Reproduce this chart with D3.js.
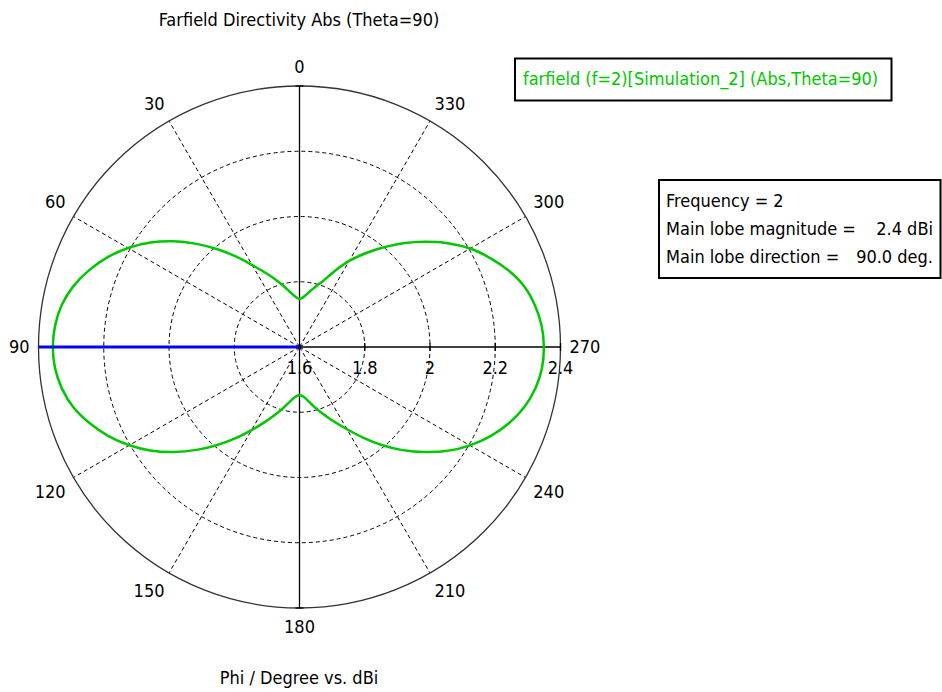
<!DOCTYPE html>
<html>
<head>
<meta charset="utf-8">
<script src="https://cdn.jsdelivr.net/npm/d3@7"></script>
<style>
  html, body { margin: 0; padding: 0; background: #fff; }
  svg { display: block; }
  text { font-family: "DejaVu Sans Condensed", "DejaVu Sans", sans-serif; font-stretch: condensed; fill: #000; }
</style>
</head>
<body>
<svg id="chart" width="942" height="692"></svg>
<script>
// ---- Data ----
const phiDeg = [0,5,10,15,20,25,30,35,40,45,50,55,60,65,70,75,80,85,
  90,95,100,105,110,115,120,125,130,135,140,145,150,155,160,165,170,175,
  180,185,190,195,200,205,210,215,220,225,230,235,240,245,250,255,260,265,
  270,275,280,285,290,295,300,305,310,315,320,325,330,335,340,345,350,355];
const directivity = [1.747,1.755,1.772,1.795,1.822,1.853,1.890,1.938,1.991,2.047,2.104,2.158,2.207,2.250,2.287,2.318,2.340,2.352,
  2.356,2.352,2.339,2.317,2.284,2.246,2.202,2.154,2.101,2.046,1.992,1.941,1.894,1.855,1.822,1.794,1.770,1.754,
  1.747,1.754,1.771,1.794,1.821,1.853,1.891,1.939,1.992,2.047,2.101,2.155,2.203,2.246,2.283,2.313,2.334,2.346,
  2.349,2.345,2.333,2.314,2.283,2.245,2.204,2.155,2.102,2.050,1.998,1.950,1.905,1.858,1.817,1.792,1.771,1.755];
const angleTicks = [0,30,60,90,120,150,180,210,240,270,300,330];
const radialTicks = [1.6,1.8,2.0,2.2,2.4];
const radialTickLabels = ["1.6","1.8","2","2.2","2.4"];
const gridCircles = [1.8,2.0,2.2];
const mainLobeDir = 90;
const title = "Farfield Directivity Abs (Theta=90)";
const axisTitle = "Phi / Degree vs. dBi";
const legendLabel = "farfield (f=2)[Simulation_2] (Abs,Theta=90)";
const infoLabels = ["Frequency = 2", "Main lobe magnitude =", "Main lobe direction ="];
const infoValues = ["", "2.4 dBi", "90.0 deg."];

// ---- Layout ----
const svg = d3.select("#chart");
const cx = 299.5, cy = 347;
const R = 261;
const r = d3.scaleLinear().domain([1.6, 2.4]).range([0, R]);
const toRad = d => -d * Math.PI / 180; // phi counter-clockwise from top
const px = (deg, rr) => cx + rr * Math.sin(toRad(deg));
const py = (deg, rr) => cy - rr * Math.cos(toRad(deg));

const g = svg.append("g");

// dashed grid circles
g.selectAll("circle.grid").data(gridCircles).join("circle")
  .attr("cx", cx).attr("cy", cy).attr("r", d => r(d))
  .attr("fill", "none").attr("stroke", "#000").attr("stroke-width", 1)
  .attr("stroke-dasharray", "4,3");

// dashed spokes
g.selectAll("line.spoke").data(angleTicks.filter(a => a % 90 !== 0)).join("line")
  .attr("x1", cx).attr("y1", cy)
  .attr("x2", d => px(d, R)).attr("y2", d => py(d, R))
  .attr("stroke", "#000").attr("stroke-width", 1).attr("stroke-dasharray", "4,3");

// outer circle
g.append("circle").attr("cx", cx).attr("cy", cy).attr("r", R)
  .attr("fill", "none").attr("stroke", "#333").attr("stroke-width", 1.3);

// solid axes
g.append("line").attr("x1", cx).attr("y1", cy - R).attr("x2", cx).attr("y2", cy + R)
  .attr("stroke", "#000").attr("stroke-width", 1.3);
g.append("line").attr("x1", cx).attr("y1", cy).attr("x2", cx + R).attr("y2", cy)
  .attr("stroke", "#000").attr("stroke-width", 1.3);
[0, 180].forEach(a => {
  g.append("line").attr("x1", px(a, R) - 4).attr("x2", px(a, R) + 4)
    .attr("y1", py(a, R)).attr("y2", py(a, R)).attr("stroke", "#000").attr("stroke-width", 1.3);
});

// radial ticks on the 270 axis
g.selectAll("line.rtick").data(radialTicks.slice(1)).join("line")
  .attr("x1", d => cx + r(d)).attr("x2", d => cx + r(d))
  .attr("y1", cy - 4).attr("y2", cy + 4)
  .attr("stroke", "#000").attr("stroke-width", 1.3);
g.selectAll("text.rlab").data(radialTicks).join("text")
  .attr("x", d => cx + r(d)).attr("y", cy + 27)
  .attr("text-anchor", "middle").attr("font-size", 18)
  .text((d, i) => radialTickLabels[i]);

// pattern curve
const line = d3.lineRadial()
  .angle((d, i) => toRad(phiDeg[i]))
  .radius(d => r(d))
  .curve(d3.curveCardinalClosed.tension(0.3));
g.append("path")
  .attr("transform", `translate(${cx},${cy})`)
  .attr("d", line(directivity))
  .attr("fill", "none").attr("stroke", "#00c800").attr("stroke-width", 2.5);

// main lobe direction
g.append("line").attr("x1", cx).attr("y1", cy)
  .attr("x2", px(mainLobeDir, R)).attr("y2", py(mainLobeDir, R))
  .attr("stroke", "#0000ff").attr("stroke-width", 3);

// angle labels: text box placed just outside the circle in the spoke direction
const gap = 9, halfH = 10;
g.selectAll("text.alab").data(angleTicks).join("text")
  .attr("text-anchor", "middle").attr("dy", "0.36em").attr("font-size", 18)
  .text(d => d)
  .each(function(d) {
    const w = this.getComputedTextLength();
    const ux = Math.sin(toRad(d)), uy = -Math.cos(toRad(d));
    const sx = Math.abs(ux) > 0.01 ? Math.sign(ux) : 0;
    const sy = Math.abs(uy) > 0.01 ? Math.sign(uy) : 0;
    const ex = cx + R * ux, ey = cy + R * uy;
    d3.select(this)
      .attr("x", ex + ux * gap + sx * w / 2)
      .attr("y", ey + uy * gap + sy * halfH);
  });

// titles
svg.append("text").attr("x", 299).attr("y", 26).attr("text-anchor", "middle")
  .attr("font-size", 18).text(title);
svg.append("text").attr("x", 299).attr("y", 684).attr("text-anchor", "middle")
  .attr("font-size", 18).text(axisTitle);

// legend box
svg.append("rect").attr("x", 515).attr("y", 58.5).attr("width", 376.5).attr("height", 42)
  .attr("fill", "#fff").attr("stroke", "#000").attr("stroke-width", 2);
svg.append("text").attr("x", 523).attr("y", 85).attr("font-size", 18)
  .style("fill", "#00c800").text(legendLabel);

// info box
svg.append("rect").attr("x", 659).attr("y", 180).attr("width", 281.5).attr("height", 98)
  .attr("fill", "#fff").attr("stroke", "#000").attr("stroke-width", 2);
infoLabels.forEach((t, i) => {
  svg.append("text").attr("x", 666).attr("y", 207 + i * 28).attr("font-size", 18).text(t);
  if (infoValues[i]) svg.append("text").attr("x", 933).attr("y", 207 + i * 28)
    .attr("text-anchor", "end").attr("font-size", 18).text(infoValues[i]);
});
</script>
</body>
</html>
